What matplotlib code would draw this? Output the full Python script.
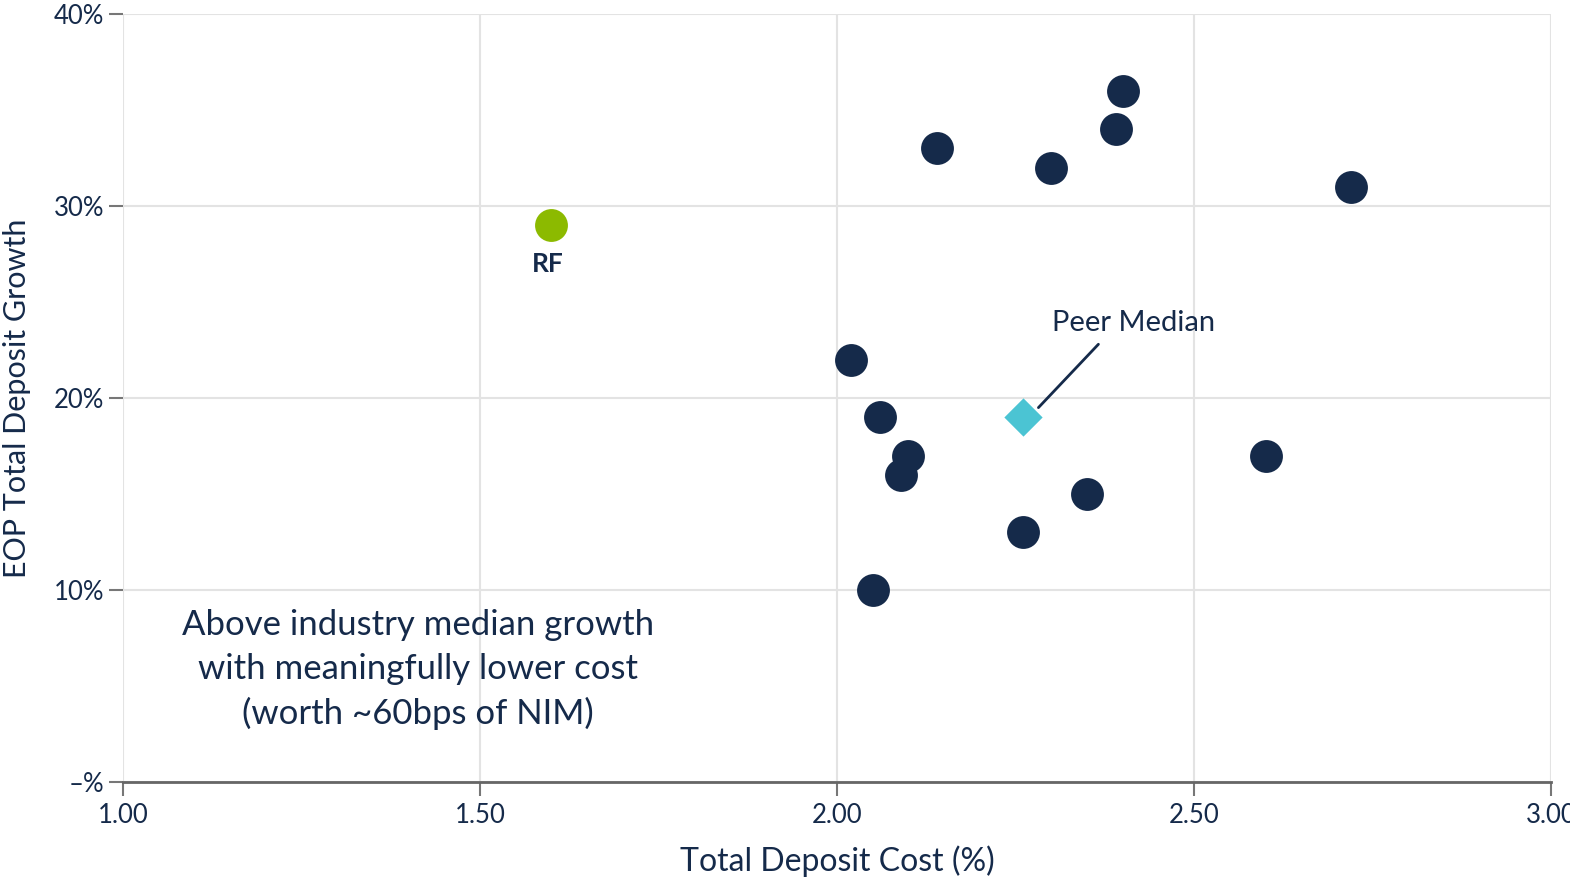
import matplotlib.pyplot as plt
from matplotlib.ticker import FuncFormatter

plt.rcParams['font.family'] = ['Lato', 'DejaVu Sans']

# --- Data ---
peer_cost = [2.14, 2.40, 2.39, 2.30, 2.72, 2.02, 2.06, 2.10, 2.09, 2.05, 2.26, 2.35, 2.60]
peer_growth = [33, 36, 34, 32, 31, 22, 19, 17, 16, 10, 13, 15, 17]
rf_cost = [1.60]
rf_growth = [29]
median_cost = [2.26]
median_growth = [19]

navy = "#152a4a"

fig = plt.figure(figsize=(15.7, 8.8), dpi=100)
ax = fig.add_axes([0.0783, 0.1114, 0.9097, 0.8726])

ax.scatter(peer_cost, peer_growth, s=560, color=navy, zorder=3, linewidths=0)
ax.scatter(rf_cost, rf_growth, s=560, color="#8cba00", zorder=3, linewidths=0)
ax.scatter(median_cost, median_growth, s=380, marker="D", color="#4bc4d3", zorder=3, linewidths=0)

ax.text(rf_cost[0] - 0.005, rf_growth[0] - 2.0, "RF", fontsize=19, fontweight="bold",
        color=navy, ha="center", va="center")

# Peer median callout
ax.annotate("", xy=(median_cost[0] + 0.022, median_growth[0] + 0.5),
            xytext=(median_cost[0] + 0.106, 22.8),
            arrowprops=dict(arrowstyle="-", color=navy, lw=2, shrinkA=0, shrinkB=0))
ax.text(median_cost[0] + 0.155, 23.9, "Peer Median", fontsize=21, color=navy,
        ha="center", va="center")

ax.text(1.413, 5.85, "Above industry median growth\nwith meaningfully lower cost\n(worth ~60bps of NIM)",
        fontsize=25, color=navy, ha="center", va="center", linespacing=1.45)

ax.set_xlim(1.0, 3.0)
ax.set_ylim(0, 40)
ax.set_xticks([1.0, 1.5, 2.0, 2.5, 3.0])
ax.set_yticks([0, 10, 20, 30, 40])
ax.xaxis.set_major_formatter(FuncFormatter(lambda v, p: f"{v:.2f}"))
ax.yaxis.set_major_formatter(FuncFormatter(lambda v, p: "\u2013%" if v == 0 else f"{v:.0f}%"))

ax.grid(True, color="#e3e3e3", lw=1.5, zorder=0)
ax.set_axisbelow(True)
for side in ["top", "right", "left"]:
    ax.spines[side].set_visible(False)
ax.spines["bottom"].set_color("#666666")
ax.spines["bottom"].set_linewidth(2)

ax.tick_params(axis="both", colors="#777777", length=10, width=1.5, labelsize=18.5,
               labelcolor=navy)
ax.tick_params(axis="x", pad=5)

ax.set_xlabel("Total Deposit Cost (%)", fontsize=23, color=navy, labelpad=13)
ax.set_ylabel("EOP Total Deposit Growth", fontsize=22, color=navy, labelpad=16)

fig.savefig("out.png", dpi=100)
